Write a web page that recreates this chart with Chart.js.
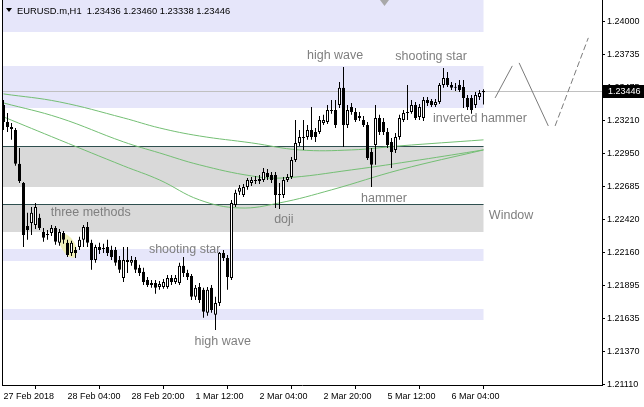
<!DOCTYPE html>
<html><head><meta charset="utf-8">
<script src="https://cdn.jsdelivr.net/npm/chart.js@4/dist/chart.umd.min.js"></script>
<style>html,body{margin:0;padding:0;background:#fff;overflow:hidden}#wrap{position:relative;width:644px;height:407px}</style>
</head><body><div id="wrap"><canvas id="c" width="644" height="407"></canvas></div>
<script>
// ---------- DATA ----------
const headerText = 'EURUSD.m,H1  1.23436 1.23460 1.23338 1.23446';
const opens = [1.23334,1.23199,1.23159,1.23135,1.22865,1.22713,1.22371,1.22395,1.22379,1.22435,
1.22323,1.22299,1.22315,1.22355,1.22236,1.22315,1.22236,1.22156,1.22180,1.22204,
1.22260,1.22363,1.22236,1.22100,1.22204,1.22188,1.22204,1.22180,1.22180,1.22100,
1.21957,1.22100,1.22077,1.22100,1.22037,1.22005,1.21941,1.21917,1.21917,1.21885,
1.21885,1.21885,1.21957,1.21925,1.21917,1.22053,1.21997,1.21973,1.21806,1.21885,
1.21862,1.21679,1.21878,1.21663,1.21758,1.22156,1.22116,1.21957,1.22538,1.22642,
1.22618,1.22681,1.22713,1.22729,1.22729,1.22737,1.22793,1.22777,1.22777,1.22618,
1.22618,1.22737,1.22761,1.22896,1.23032,1.23079,1.23079,1.23135,1.23119,1.23119,
1.23191,1.23199,1.23286,1.23294,1.23334,1.23470,1.23175,1.23318,1.23278,1.23231,
1.23215,1.23175,1.22960,1.23016,1.23231,1.23199,1.23119,1.23040,1.22976,1.23079,
1.23215,1.23270,1.23278,1.23334,1.23239,1.23231,1.23374,1.23366,1.23334,1.23358,
1.23493,1.23549,1.23493,1.23477,1.23493,1.23477,1.23390,1.23390,1.23334,1.23398,1.23436];
const highs = [1.23374,1.23270,1.23191,1.23151,1.22992,1.22721,1.22475,1.22522,1.22554,1.22467,
1.22355,1.22339,1.22379,1.22371,1.22347,1.22331,1.22260,1.22252,1.22204,1.22284,
1.22379,1.22403,1.22260,1.22220,1.22236,1.22228,1.22260,1.22212,1.22204,1.22132,
1.22204,1.22204,1.22132,1.22124,1.22061,1.22037,1.21965,1.21941,1.21941,1.21933,
1.21949,1.21981,1.21981,1.21981,1.22077,1.22124,1.22021,1.21989,1.21901,1.21917,
1.21878,1.21885,1.21901,1.21806,1.22164,1.22180,1.22140,1.22578,1.22658,1.22697,
1.22705,1.22753,1.22761,1.22769,1.22777,1.22833,1.22825,1.22801,1.22801,1.22713,
1.22761,1.22785,1.22920,1.23215,1.23135,1.23215,1.23175,1.23318,1.23151,1.23247,
1.23255,1.23334,1.23374,1.23374,1.23517,1.23637,1.23334,1.23350,1.23310,1.23278,
1.23247,1.23199,1.22992,1.23334,1.23255,1.23231,1.23151,1.23071,1.23111,1.23255,
1.23294,1.23493,1.23374,1.23358,1.23342,1.23398,1.23398,1.23382,1.23382,1.23509,
1.23629,1.23597,1.23517,1.23509,1.23533,1.23533,1.23414,1.23414,1.23438,1.23454,1.23460];
const lows = [1.23135,1.23119,1.23056,1.22849,1.22713,1.22204,1.22260,1.22299,1.22347,1.22339,
1.22244,1.22260,1.22291,1.22220,1.22212,1.22228,1.22124,1.22132,1.22116,1.22180,
1.22204,1.22204,1.22021,1.22077,1.22148,1.22156,1.22132,1.22100,1.22053,1.21997,
1.21925,1.21997,1.22053,1.21997,1.21973,1.21901,1.21885,1.21878,1.21830,1.21862,
1.21870,1.21870,1.21901,1.21909,1.21901,1.21965,1.21941,1.21782,1.21782,1.21758,
1.21639,1.21655,1.21679,1.21543,1.21734,1.22092,1.21862,1.21941,1.22522,1.22618,
1.22602,1.22658,1.22689,1.22705,1.22705,1.22721,1.22737,1.22713,1.22514,1.22506,
1.22594,1.22721,1.22745,1.22880,1.23008,1.22976,1.23056,1.23056,1.23040,1.23103,
1.23175,1.23183,1.23263,1.23151,1.23310,1.23000,1.23151,1.23255,1.23199,1.23207,
1.23159,1.22896,1.22681,1.22857,1.23095,1.23095,1.22992,1.22833,1.22952,1.23056,
1.23199,1.23215,1.23263,1.23215,1.23215,1.23207,1.23326,1.23318,1.23318,1.23342,
1.23470,1.23477,1.23454,1.23446,1.23438,1.23310,1.23294,1.23263,1.23310,1.23374,1.23338];
const closes = [1.23199,1.23159,1.23143,1.22865,1.22729,1.22299,1.22339,1.22475,1.22522,1.22355,
1.22276,1.22307,1.22355,1.22244,1.22323,1.22260,1.22140,1.22236,1.22156,1.22260,
1.22363,1.22236,1.22100,1.22204,1.22180,1.22196,1.22156,1.22124,1.22077,1.22021,
1.22100,1.22084,1.22100,1.22021,1.21997,1.21925,1.21901,1.21901,1.21878,1.21909,
1.21925,1.21957,1.21925,1.21957,1.22053,1.21997,1.21965,1.21806,1.21878,1.21782,
1.21687,1.21862,1.21702,1.21758,1.22156,1.22116,1.21965,1.22554,1.22634,1.22674,
1.22681,1.22737,1.22737,1.22737,1.22745,1.22801,1.22761,1.22737,1.22618,1.22626,
1.22737,1.22761,1.22896,1.23032,1.23079,1.23071,1.23135,1.23079,1.23079,1.23215,
1.23215,1.23294,1.23294,1.23175,1.23470,1.23175,1.23294,1.23278,1.23215,1.23247,
1.23175,1.22912,1.22857,1.23231,1.23119,1.23119,1.23016,1.22960,1.23079,1.23231,
1.23270,1.23278,1.23334,1.23231,1.23318,1.23374,1.23350,1.23334,1.23358,1.23493,
1.23549,1.23493,1.23470,1.23470,1.23454,1.23390,1.23318,1.23294,1.23414,1.23430,1.23446];

const timeTickBars = [0,16,32,48,64,80,96,112];
const timeTickLabels = ['27 Feb 2018','28 Feb 04:00','28 Feb 20:00','1 Mar 12:00','2 Mar 04:00','2 Mar 20:00','5 Mar 12:00','6 Mar 04:00'];
const priceTicks = [1.24000,1.23735,1.23475,1.23210,1.22950,1.22685,1.22420,1.22160,1.21895,1.21635,1.21370,1.21110];

const maSlowBars = [0,14,30,39,49,62,74,87,99,120];
const maSlowValues = [1.23422,1.23358,1.23231,1.23151,1.23087,1.23032,1.22976,1.22976,1.23008,1.23056];
const maMidBars = [0,14,30,39,49,62,70,87,104,120];
const maMidValues = [1.23350,1.23231,1.23040,1.22952,1.22857,1.22769,1.22753,1.22817,1.22896,1.22976];
const maFastBars = [0,14,30,39,49,59,69,82,99,120];
const maFastValues = [1.23239,1.23056,1.22849,1.22737,1.22578,1.22514,1.22554,1.22658,1.22817,1.22976];

const zoneTops    = [1.24200,1.23645,1.23008,1.22546,1.22188,1.21710];
const zoneBottoms = [1.23915,1.23310,1.22681,1.22323,1.22092,1.21623];
const zoneKinds   = ['lavender','lavender','gray','gray','lavender','lavender'];
const zoneEndBar = 120;
const levelLines = [1.23008,1.22546];

const patternNames  = ['three methods','shooting star','high wave','doji','high wave','shooting star','inverted hammer','hammer','Window'];
const patternBars   = [21.8,45.3,54.8,70.1,82.9,106.9,119.1,95.1,126.9];
const patternPrices = [1.22475,1.22180,1.21448,1.22419,1.23724,1.23716,1.23223,1.22586,1.22451];

const sketchSolidBars   = [122.9,127.2,null,128.9,136.2];
const sketchSolidPrices = [1.23390,1.23645,null,1.23669,1.23167];
const sketchDashBars    = [137.9,146.2];
const sketchDashPrices  = [1.23167,1.23868];

const highlightBar = 16.2, highlightPrice = 1.22212;

// ---------- BUILD ----------
const AXIS_FONT = {family:'"Liberation Sans", Arial, sans-serif', size:9};
const n = closes.length;
const wickData = closes.map((c,i)=>({x:i, y:[lows[i], highs[i]]}));
const bodyData = closes.map((c,i)=>({x:i, y:[opens[i], c]}));
const pts = (bs, vs) => bs.map((b,i)=> b===null ? {x:null,y:null} : ({x:b, y:vs[i]}));

const decor = {
  id:'decor',
  beforeDatasetsDraw(chart){
    const {ctx, chartArea:a, scales:{x,y}} = chart;
    ctx.save();
    ctx.beginPath(); ctx.rect(a.left, a.top, a.right-a.left, a.bottom-a.top); ctx.clip();
    const xr = x.getPixelForValue(zoneEndBar);
    zoneTops.forEach((t,i)=>{
      const yt = Math.round(y.getPixelForValue(t)), yb = Math.round(y.getPixelForValue(zoneBottoms[i]));
      ctx.fillStyle = zoneKinds[i]==='gray' ? '#D9D9D9' : '#E6E6FA';
      ctx.fillRect(a.left, yt, xr-a.left, yb-yt);
    });
    ctx.fillStyle = 'rgba(238,238,180,0.95)';
    ctx.beginPath();
    ctx.ellipse(x.getPixelForValue(highlightBar), y.getPixelForValue(highlightPrice), 7, 13, -0.5, 0, Math.PI*2);
    ctx.fill();
    ctx.lineWidth = 1;
    ctx.strokeStyle = '#2F4F4F';
    levelLines.forEach(v=>{
      const yy = Math.round(y.getPixelForValue(v)) + 0.5;
      ctx.beginPath(); ctx.moveTo(a.left, yy); ctx.lineTo(xr, yy); ctx.stroke();
    });
    const yp = Math.round(y.getPixelForValue(closes[n-1])) + 0.5;
    ctx.strokeStyle = '#C0C0C0';
    ctx.beginPath(); ctx.moveTo(a.left, yp); ctx.lineTo(a.right, yp); ctx.stroke();
    ctx.restore();
  },
  afterDatasetsDraw(chart){
    const {ctx, chartArea:a, scales:{x,y}} = chart;
    ctx.save();
    ctx.font = '12.5px "Liberation Sans", Arial, sans-serif';
    ctx.fillStyle = '#7f7f7f';
    ctx.textAlign = 'center'; ctx.textBaseline = 'middle';
    patternNames.forEach((t,i)=>{
      ctx.fillText(t, x.getPixelForValue(patternBars[i]), y.getPixelForValue(patternPrices[i]));
    });
    ctx.fillStyle = '#000';
    ctx.fillRect(a.left, a.top, 1, a.bottom-a.top);
    ctx.beginPath(); ctx.moveTo(6,8); ctx.lineTo(12,8); ctx.lineTo(9,12); ctx.closePath(); ctx.fill();
    ctx.font = '9.4px "Liberation Sans", Arial, sans-serif';
    ctx.textAlign = 'left'; ctx.textBaseline = 'middle';
    ctx.fillText(headerText, 17, 11);
    ctx.fillStyle = '#A8A8A8';
    ctx.beginPath(); ctx.moveTo(380,0); ctx.lineTo(389,0); ctx.lineTo(384.5,6); ctx.closePath(); ctx.fill();
    ctx.restore();
  },
  afterDraw(chart){
    const {ctx, chartArea:a, scales:{y}} = chart;
    const yp = Math.round(y.getPixelForValue(closes[n-1]));
    ctx.save();
    ctx.fillStyle = '#000';
    ctx.fillRect(a.right, yp-6, 644-a.right, 13);
    ctx.fillStyle = '#fff';
    ctx.font = '9px "Liberation Sans", Arial, sans-serif';
    ctx.textAlign = 'left'; ctx.textBaseline = 'middle';
    ctx.fillText(closes[n-1].toFixed(5), a.right+6, yp+1);
    ctx.restore();
  }
};

new Chart(document.getElementById('c'), {
  type:'bar',
  data:{
    datasets:[
      {type:'bar', data:bodyData, order:0, grouped:false, barThickness:3, minBarLength:1, inflateAmount:0,
       borderWidth:1, borderColor:'#000', borderSkipped:false,
       backgroundColor:(c)=> (closes[c.dataIndex] >= opens[c.dataIndex] ? '#ffffff' : '#000000')},
      {type:'bar', data:wickData, order:1, grouped:false, barThickness:1, inflateAmount:0,
       borderWidth:0, backgroundColor:'#000'},
      {type:'line', data:pts(maSlowBars, maSlowValues), order:2, borderColor:'#74bf74', borderWidth:1, pointRadius:0, tension:0.4, fill:false},
      {type:'line', data:pts(maMidBars, maMidValues), order:2, borderColor:'#74bf74', borderWidth:1, pointRadius:0, tension:0.4, fill:false},
      {type:'line', data:pts(maFastBars, maFastValues), order:2, borderColor:'#74bf74', borderWidth:1, pointRadius:0, tension:0.4, fill:false},
      {type:'line', data:pts(sketchSolidBars, sketchSolidPrices), order:3, borderColor:'#7a7a7a', borderWidth:1, pointRadius:0, spanGaps:false, fill:false},
      {type:'line', data:pts(sketchDashBars, sketchDashPrices), order:3, borderColor:'#7a7a7a', borderWidth:1, borderDash:[6,3], pointRadius:0, fill:false}
    ]
  },
  options:{
    responsive:false, animation:false, devicePixelRatio:1,
    layout:{padding:{left:2, top:0, right:0, bottom:0}},
    plugins:{legend:{display:false}, tooltip:{enabled:false}},
    scales:{
      x:{type:'linear', min:-0.375, max:149.625, offset:false, position:'bottom',
         afterBuildTicks:(s)=>{ s.ticks = timeTickBars.map(v=>({value:v})); },
         afterFit:(s)=>{ s.height = 22; s.paddingLeft = 0; s.paddingRight = 0; },
         grid:{drawOnChartArea:false, drawTicks:true, tickLength:4, color:'#000'},
         border:{display:true, color:'#000'},
         ticks:{align:'start', padding:2, maxRotation:0, minRotation:0, autoSkip:false, color:'#000', font:AXIS_FONT,
                callback:(v,i)=>timeTickLabels[i]}
      },
      y:{type:'linear', position:'right', min:1.211043, max:1.241696,
         afterBuildTicks:(s)=>{ s.ticks = priceTicks.map(v=>({value:v})); },
         afterFit:(s)=>{ s.width = 42; s.paddingTop = 0; s.paddingBottom = 0; },
         grid:{drawOnChartArea:false, drawTicks:true, tickLength:3, color:'#000'},
         border:{display:true, color:'#000'},
         ticks:{padding:2, autoSkip:false, color:'#000', font:AXIS_FONT, callback:(v)=>Number(v).toFixed(5)}
      }
    }
  },
  plugins:[decor]
});
</script>
</body></html>
